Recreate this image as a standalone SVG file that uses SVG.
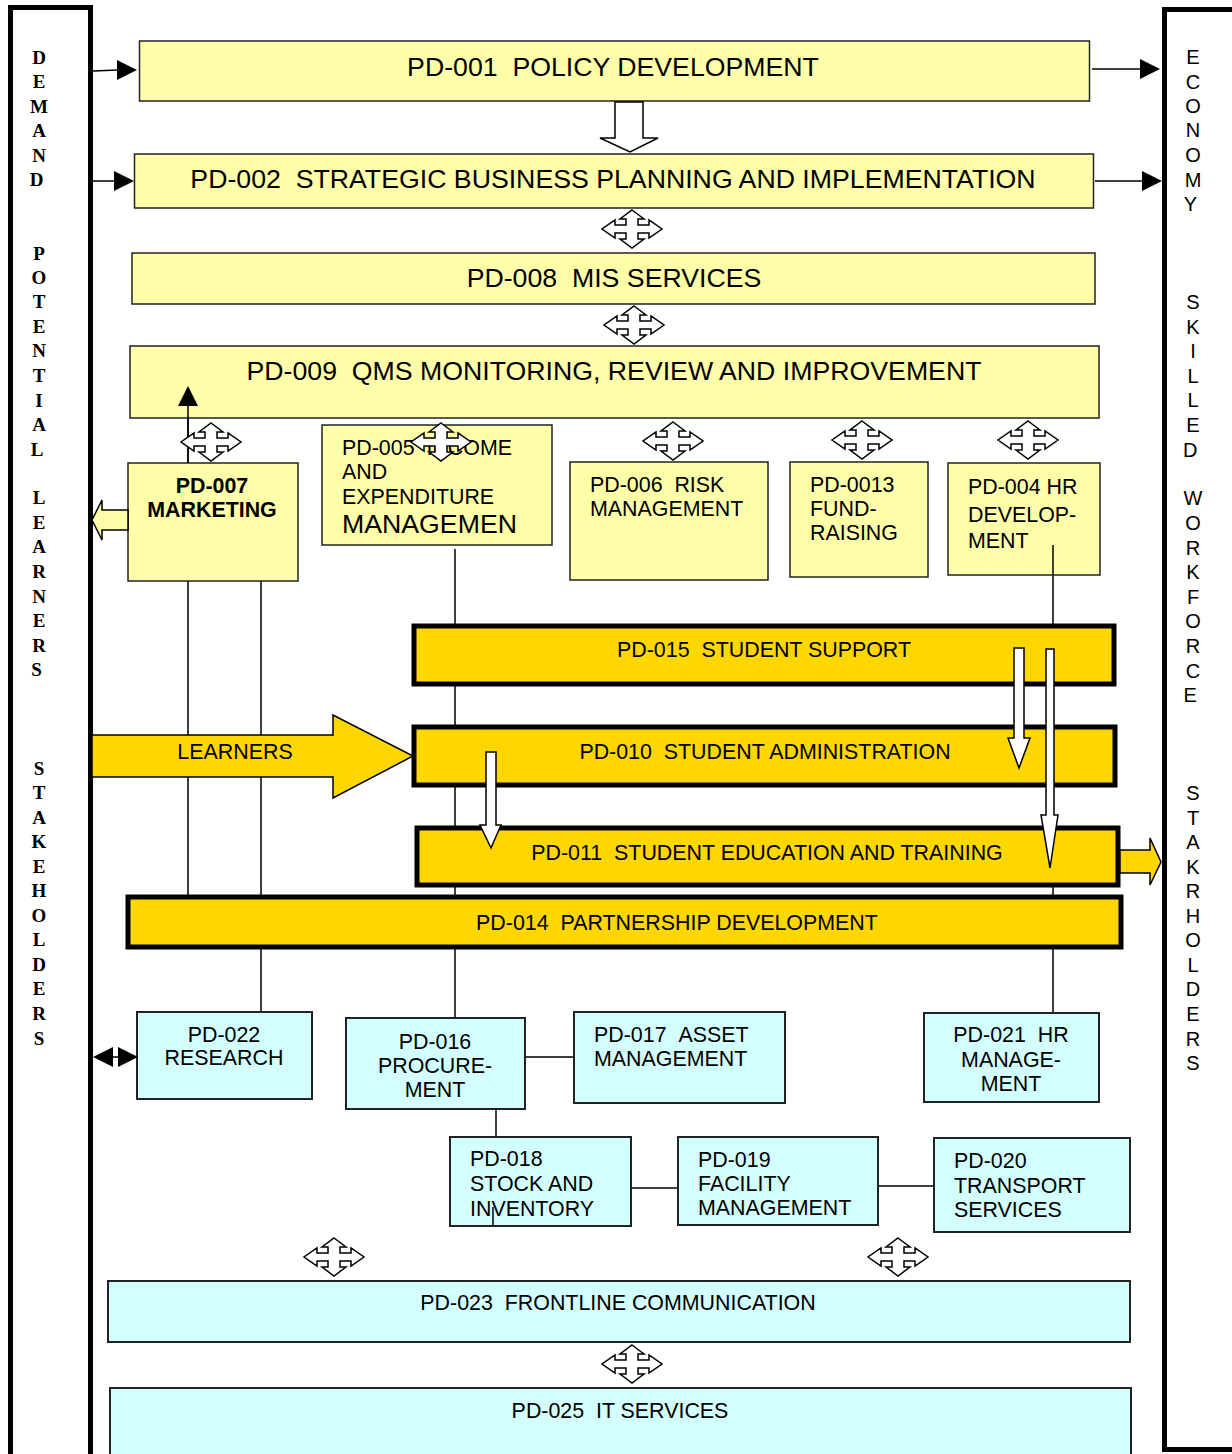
<svg xmlns="http://www.w3.org/2000/svg" xmlns:xlink="http://www.w3.org/1999/xlink" width="1232" height="1454" viewBox="0 0 1232 1454">
<style>
text{font-family:"Liberation Sans",Arial,sans-serif;fill:#000}
.big{font-size:26.7px}
.t21{font-size:21.4px}
.mid{text-anchor:middle}
.bold{font-weight:bold}
.ser{font-family:"Liberation Serif","Times New Roman",serif;font-weight:bold;font-size:19px;text-anchor:middle}
.rcol{font-size:20px;text-anchor:middle}
.pale{fill:#FFFFAA;stroke:#222;stroke-width:1.5}
.gold{fill:#FFD700;stroke:#000;stroke-width:5}
.cyan{fill:#D4FFFF;stroke:#222;stroke-width:2}
.ln{stroke:#000;stroke-width:1.5;fill:none}
.wa{fill:#fff;stroke:#000;stroke-width:1.5;stroke-linejoin:miter}
.ga{fill:#FFD700;stroke:#000;stroke-width:1.5}
.pa{fill:#FFFFAA;stroke:#000;stroke-width:1.5}
.blk{fill:#000}
.col{fill:#fff;stroke:#000;stroke-width:5}
</style>
<defs>
<path id="move" d="M0,-19 L12,-10 L6,-10 L6,-4 L17,-4 L17,-9 L30,0 L17,9 L17,4 L6,4 L6,10 L12,10 L0,19 L-12,10 L-6,10 L-6,4 L-17,4 L-17,9 L-30,0 L-17,-9 L-17,-4 L-6,-4 L-6,-10 L-12,-10 Z" fill="#fff" stroke="#000" stroke-width="1.5"/>
</defs>
<rect width="1232" height="1454" fill="#fff"/>

<g id="left-column">
<rect class="col" x="10.5" y="7.5" width="80" height="1452"/>
<text class="ser">
<tspan x="39" y="63.5">D</tspan><tspan x="39" y="87.5">E</tspan><tspan x="39" y="112.5">M</tspan><tspan x="39" y="136.5">A</tspan><tspan x="39" y="161.5">N</tspan><tspan x="39" y="185.5">D</tspan>
<tspan x="39" y="259.5">P</tspan><tspan x="39" y="283.5">O</tspan><tspan x="39" y="307.5">T</tspan><tspan x="39" y="332.5">E</tspan><tspan x="39" y="356.5">N</tspan><tspan x="39" y="381.5">T</tspan><tspan x="39" y="406.5">I</tspan><tspan x="39" y="430.5">A</tspan><tspan x="39" y="455.5">L</tspan>
<tspan x="39" y="503.5">L</tspan><tspan x="39" y="528.5">E</tspan><tspan x="39" y="552.5">A</tspan><tspan x="39" y="577.5">R</tspan><tspan x="39" y="602.5">N</tspan><tspan x="39" y="626.5">E</tspan><tspan x="39" y="651.5">R</tspan><tspan x="39" y="675.5">S</tspan>
<tspan x="39" y="774.5">S</tspan><tspan x="39" y="798.5">T</tspan><tspan x="39" y="823.5">A</tspan><tspan x="39" y="847.5">K</tspan><tspan x="39" y="872.5">E</tspan><tspan x="39" y="896.5">H</tspan><tspan x="39" y="921.5">O</tspan><tspan x="39" y="945.5">L</tspan><tspan x="39" y="970.5">D</tspan><tspan x="39" y="994.5">E</tspan><tspan x="39" y="1019.5">R</tspan><tspan x="39" y="1044.5">S</tspan>
</text>
</g>

<g id="right-column">
<rect class="col" x="1164.5" y="9.5" width="72" height="1440"/>
<text class="rcol">
<tspan x="1193" y="64">E</tspan><tspan x="1193" y="89">C</tspan><tspan x="1193" y="113">O</tspan><tspan x="1193" y="137">N</tspan><tspan x="1193" y="162">O</tspan><tspan x="1193" y="187">M</tspan><tspan x="1193" y="211">Y</tspan>
<tspan x="1193" y="309">S</tspan><tspan x="1193" y="334">K</tspan><tspan x="1193" y="358">I</tspan><tspan x="1193" y="383">L</tspan><tspan x="1193" y="407">L</tspan><tspan x="1193" y="432">E</tspan><tspan x="1193" y="457">D</tspan>
<tspan x="1193" y="505">W</tspan><tspan x="1193" y="530">O</tspan><tspan x="1193" y="555">R</tspan><tspan x="1193" y="579">K</tspan><tspan x="1193" y="604">F</tspan><tspan x="1193" y="628">O</tspan><tspan x="1193" y="653">R</tspan><tspan x="1193" y="678">C</tspan><tspan x="1193" y="702">E</tspan>
<tspan x="1193" y="800">S</tspan><tspan x="1193" y="825">T</tspan><tspan x="1193" y="849">A</tspan><tspan x="1193" y="874">K</tspan><tspan x="1193" y="898">R</tspan><tspan x="1193" y="923">H</tspan><tspan x="1193" y="947">O</tspan><tspan x="1193" y="972">L</tspan><tspan x="1193" y="996">D</tspan><tspan x="1193" y="1021">E</tspan><tspan x="1193" y="1046">R</tspan><tspan x="1193" y="1070">S</tspan>
</text>
</g>

<g id="connectors">
<line class="ln" x1="188" y1="405" x2="188" y2="896"/>
<line class="ln" x1="261" y1="581" x2="261" y2="1012"/>
<line class="ln" x1="455" y1="549" x2="455" y2="1018"/>
<line class="ln" x1="1053" y1="545" x2="1053" y2="1013"/>
<line class="ln" x1="525" y1="1057" x2="574" y2="1057"/>
<line class="ln" x1="496" y1="1109" x2="496" y2="1137"/>
<line class="ln" x1="631" y1="1188" x2="678" y2="1188"/>
<line class="ln" x1="876" y1="1186" x2="934" y2="1186"/>
</g>

<g id="pd-001"><rect class="pale" x="139.5" y="41" width="950" height="60"/><text class="big mid" x="613" y="76">PD-001 &#160;POLICY DEVELOPMENT</text></g>
<g id="pd-002"><rect class="pale" x="134.5" y="154" width="959" height="54"/><text class="big mid" x="613" y="188">PD-002 &#160;STRATEGIC BUSINESS PLANNING AND IMPLEMENTATION</text></g>
<g id="pd-008"><rect class="pale" x="132" y="253" width="963" height="51"/><text class="big mid" x="614" y="287">PD-008 &#160;MIS SERVICES</text></g>
<g id="pd-009"><rect class="pale" x="130" y="346" width="969" height="72"/><text class="big mid" x="614" y="380">PD-009 &#160;QMS MONITORING, REVIEW AND IMPROVEMENT</text></g>
<g id="pd-007"><rect class="pale" x="128" y="463" width="170" height="118"/><text class="t21 mid bold" x="212" y="493">PD-007</text><text class="t21 mid bold" x="212" y="517">MARKETING</text></g>
<g id="pd-005"><rect class="pale" x="322" y="425" width="230" height="120"/><text class="t21" x="342" y="455">PD-005 &#160;INCOME</text><text class="t21" x="342" y="479">AND</text><text class="t21" x="342" y="504">EXPENDITURE</text><text class="big" x="342" y="533">MANAGEMEN</text></g>
<g id="pd-006"><rect class="pale" x="570" y="462" width="198" height="118"/><text class="t21" x="590" y="492">PD-006 &#160;RISK</text><text class="t21" x="590" y="516">MANAGEMENT</text></g>
<g id="pd-0013"><rect class="pale" x="790" y="462" width="138" height="115"/><text class="t21" x="810" y="492">PD-0013</text><text class="t21" x="810" y="516">FUND-</text><text class="t21" x="810" y="540">RAISING</text></g>
<g id="pd-004"><rect class="pale" x="948" y="463" width="152" height="112"/><text class="t21" x="968" y="494">PD-004 HR</text><text class="t21" x="968" y="522">DEVELOP-</text><text class="t21" x="968" y="548">MENT</text></g>

<g id="pd-015"><rect class="gold" x="414" y="626" width="700" height="58"/><text class="t21 mid" x="764" y="657">PD-015 &#160;STUDENT SUPPORT</text></g>
<g id="pd-010"><rect class="gold" x="414" y="727" width="701" height="58"/><text class="t21 mid" x="765" y="759">PD-010 &#160;STUDENT ADMINISTRATION</text></g>
<g id="pd-011"><rect class="gold" x="417" y="828" width="701" height="57"/><text class="t21 mid" x="767" y="860">PD-011 &#160;STUDENT EDUCATION AND TRAINING</text></g>
<g id="pd-014"><rect class="gold" x="128" y="897" width="993" height="50"/><text class="t21 mid" x="677" y="930">PD-014 &#160;PARTNERSHIP DEVELOPMENT</text></g>

<g id="pd-022"><rect class="cyan" x="137" y="1012" width="175" height="87"/><text class="t21 mid" x="224" y="1042">PD-022</text><text class="t21 mid" x="224" y="1065">RESEARCH</text></g>
<g id="pd-016"><rect class="cyan" x="346" y="1018" width="179" height="91"/><text class="t21 mid" x="435" y="1049">PD-016</text><text class="t21 mid" x="435" y="1073">PROCURE-</text><text class="t21 mid" x="435" y="1097">MENT</text></g>
<g id="pd-017"><rect class="cyan" x="574" y="1012" width="211" height="91"/><text class="t21" x="594" y="1042">PD-017 &#160;ASSET</text><text class="t21" x="594" y="1066">MANAGEMENT</text></g>
<g id="pd-021"><rect class="cyan" x="924" y="1013" width="175" height="89"/><text class="t21 mid" x="1011" y="1042">PD-021 &#160;HR</text><text class="t21 mid" x="1011" y="1067">MANAGE-</text><text class="t21 mid" x="1011" y="1091">MENT</text></g>
<g id="pd-018"><rect class="cyan" x="450" y="1137" width="181" height="89"/><text class="t21" x="470" y="1166">PD-018</text><text class="t21" x="470" y="1191">STOCK AND</text><text class="t21" x="470" y="1216">INVENTORY</text><line class="ln" x1="493" y1="1207" x2="493" y2="1226"/></g>
<g id="pd-019"><rect class="cyan" x="678" y="1137" width="200" height="88"/><text class="t21" x="698" y="1167">PD-019</text><text class="t21" x="698" y="1191">FACILITY</text><text class="t21" x="698" y="1215">MANAGEMENT</text></g>
<g id="pd-020"><rect class="cyan" x="934" y="1138" width="196" height="94"/><text class="t21" x="954" y="1168">PD-020</text><text class="t21" x="954" y="1193">TRANSPORT</text><text class="t21" x="954" y="1217">SERVICES</text></g>
<g id="pd-023"><rect class="cyan" x="108" y="1281" width="1022" height="61"/><text class="t21 mid" x="618" y="1310">PD-023 &#160;FRONTLINE COMMUNICATION</text></g>
<g id="pd-025"><rect class="cyan" x="110" y="1388" width="1021" height="75"/><text class="t21 mid" x="620" y="1418">PD-025 &#160;IT SERVICES</text></g>

<g id="arrows">
<line class="ln" x1="188" y1="404" x2="188" y2="463"/>
<line class="ln" x1="1053" y1="545" x2="1053" y2="575"/>
<line class="ln" x1="93" y1="71" x2="118" y2="70"/>
<polygon class="blk" points="117,60 137,70 117,80"/>
<line class="ln" x1="93" y1="181" x2="114" y2="181"/>
<polygon class="blk" points="114,171 134,181 114,191"/>
<line class="ln" x1="1092" y1="69" x2="1141" y2="69"/>
<polygon class="blk" points="1140,59 1160,69 1140,79"/>
<line class="ln" x1="1095" y1="181" x2="1143" y2="181"/>
<polygon class="blk" points="1142,171 1162,181 1142,191"/>
<polygon class="blk" points="178,406 188,386 198,406"/>
<line class="ln" x1="100" y1="1057" x2="130" y2="1057"/>
<polygon class="blk" points="93,1057 113,1047 113,1067"/>
<polygon class="blk" points="138,1057 118,1047 118,1067"/>
<polygon class="wa" points="615,102 643,102 643,138 658,138 630,152 600,138 615,138"/>
<polygon class="pa" points="128,510 102,510 102,500 92,520 102,540 102,530 128,530"/>
<polygon class="ga" points="92,735 333,735 333,715 413,756 333,798 333,777 92,777"/>
<text class="t21 mid" x="235" y="759">LEARNERS</text>
<polygon class="ga" points="1120,850 1150,850 1150,838 1161,862 1150,885 1150,873 1120,873"/>
<polygon class="wa" points="486,752 496,752 496,825 501,825 491,848 480,825 486,825"/>
<polygon class="wa" points="1014,648 1024,648 1024,738 1030,738 1019,768 1008,738 1014,738"/>
<polygon class="wa" points="1046,649 1054,649 1054,815 1058,815 1050,868 1041,815 1046,815"/>
<use xlink:href="#move" x="632" y="229"/>
<use xlink:href="#move" x="634" y="325"/>
<use xlink:href="#move" x="211" y="442"/>
<use xlink:href="#move" x="441" y="442"/>
<use xlink:href="#move" x="673" y="441"/>
<use xlink:href="#move" x="862" y="440"/>
<use xlink:href="#move" x="1028" y="440"/>
<use xlink:href="#move" x="334" y="1257"/>
<use xlink:href="#move" x="898" y="1257"/>
<use xlink:href="#move" x="632" y="1364"/>
</g>
</svg>
